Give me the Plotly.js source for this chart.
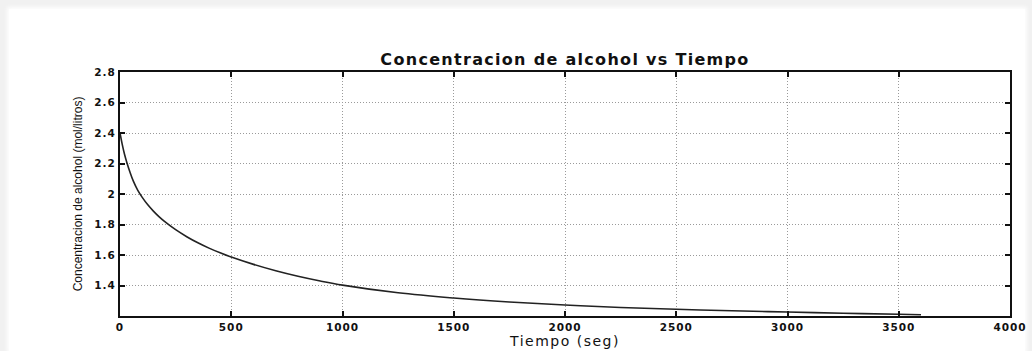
<!DOCTYPE html>
<html>
<head>
<meta charset="utf-8">
<script src="https://cdn.plot.ly/plotly-3.0.1.min.js"></script>
<style>
  html, body { margin: 0; padding: 0; }
  body { width: 1032px; height: 351px; background: #f1f1f1; position: relative; overflow: hidden; }
  #card { position: absolute; left: 9px; top: 9px; right: 7px; bottom: 0; background: #ffffff;
          box-shadow: 0 0 4px 2px rgba(255,255,255,0.9); }
  #chart { position: absolute; left: 0; top: 0; width: 1032px; height: 351px; }
  #chart .gtitle { letter-spacing: 1.3px; }
  #chart .xtitle { letter-spacing: 1.5px; }
  #chart .xtick text, #chart .ytick text { letter-spacing: 1px; }
</style>
</head>
<body>
<div id="card"></div>
<div id="chart"></div>
<script>
// Alcohol concentration (mol/litros) sampled over time (seg)
const tiempo = [0, 10, 20, 30, 45, 60, 80, 100, 125, 150, 175, 200, 250, 300, 350, 400, 450, 500,
                600, 700, 800, 900, 1000, 1250, 1500, 1750, 2000, 2250, 2500, 2750, 3000, 3250, 3500, 3600];
const concentracion = [2.40, 2.325, 2.262, 2.21, 2.1425, 2.084, 2.024, 1.978, 1.929, 1.888, 1.852, 1.8205, 1.766, 1.72, 1.68, 1.645, 1.614, 1.5865,
                       1.5385, 1.4965, 1.4605, 1.4295, 1.4025, 1.352, 1.318, 1.292, 1.272, 1.256, 1.244, 1.234, 1.226, 1.218, 1.211, 1.208];

const xTicks = [0, 500, 1000, 1500, 2000, 2500, 3000, 3500, 4000];
const yTicks = [1.4, 1.6, 1.8, 2.0, 2.2, 2.4, 2.6, 2.8];
const yTickText = ['1.4', '1.6', '1.8', '2', '2.2', '2.4', '2.6', '2.8'];

const tickFont = { family: 'DejaVu Sans', size: 10.5, color: '#111', weight: 'bold' };

const trace = {
  x: tiempo,
  y: concentracion,
  type: 'scatter',
  mode: 'lines',
  line: { color: '#222', width: 1.6, shape: 'spline', smoothing: 1 },
  hoverinfo: 'skip'
};

const axisCommon = {
  showline: true, linecolor: '#111', linewidth: 2, mirror: 'ticks',
  ticks: 'inside', ticklen: 5, tickwidth: 2, tickcolor: '#111',
  showgrid: true, gridcolor: '#9a9a9a', gridwidth: 1, griddash: '1px,2px',
  zeroline: false, tickfont: tickFont, fixedrange: true
};

const layout = {
  width: 1032, height: 351,
  margin: { l: 120, r: 22, t: 72, b: 35 },
  paper_bgcolor: 'rgba(0,0,0,0)',
  plot_bgcolor: '#ffffff',
  showlegend: false,
  title: {
    text: 'Concentracion de alcohol vs Tiempo',
    font: { family: 'DejaVu Sans', size: 16, color: '#111', weight: 'bold' },
    x: 0.5, xanchor: 'center', xref: 'paper',
    y: 1 - 59 / 351, yanchor: 'middle', yref: 'container'
  },
  xaxis: Object.assign({}, axisCommon, {
    range: [0, 4000],
    tickvals: xTicks,
    ticktext: xTicks.map(String),
    title: { text: 'Tiempo (seg)', font: { family: 'DejaVu Sans', size: 14, color: '#111' }, standoff: 1 }
  }),
  yaxis: Object.assign({}, axisCommon, {
    range: [1.2, 2.8],
    tickvals: yTicks,
    ticktext: yTickText,
    title: { text: 'Concentracion de alcohol (mol/litros)', font: { family: 'Liberation Sans', size: 12, color: '#111' }, standoff: 12 }
  })
};

Plotly.newPlot('chart', [trace], layout, { staticPlot: true, displayModeBar: false });
</script>
</body>
</html>
